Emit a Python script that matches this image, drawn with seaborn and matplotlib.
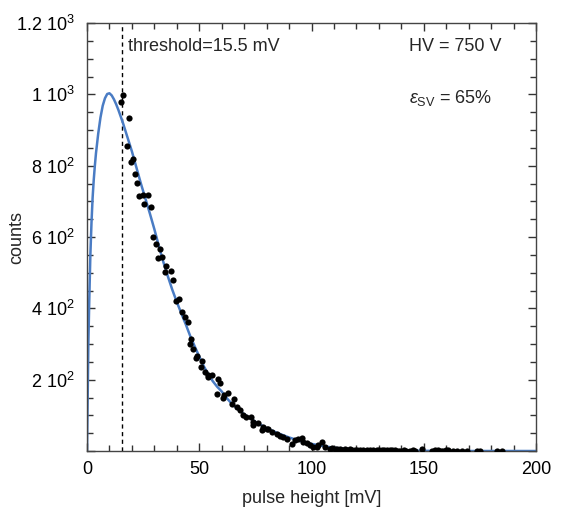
import matplotlib
matplotlib.use("Agg")
import matplotlib.pyplot as plt
import seaborn as sns
import pandas as pd
from matplotlib.ticker import MultipleLocator

# ---- data ----
curve_x = [0, 0.3, 0.6, 1, 1.5, 2, 2.5, 3, 3.5, 4, 5, 6, 7, 8, 9, 10, 11, 12, 13, 14, 15, 16,
           18, 20, 22, 24, 26, 28, 30, 32, 34, 36, 38, 40, 42, 44, 46, 48, 50, 52, 54, 56, 58,
           60, 62, 64, 66, 68, 70, 75, 80, 85, 90, 95, 100, 105, 110, 115, 120, 130, 140, 150,
           160, 170, 180, 190, 200]
curve_y = [0, 150, 300, 420, 550, 640, 710, 760, 800, 835, 890, 935, 968, 989, 1001, 1003, 997,
           986, 972, 956, 938, 920, 880, 840, 795, 750, 708, 666, 622, 575, 530, 490, 452, 418,
           386, 355, 322, 293, 265, 238, 215, 196, 180, 167, 150, 136, 124, 113, 103, 82, 64, 50,
           38, 28, 20, 14, 9, 6, 4, 2, 1, 0.5, 0, 0, 0, 0, 0]

pts_x = [15.1, 16.2, 17.7, 18.7, 19.4, 20.3, 21.4, 22.4, 23.3, 24.8, 25.6, 27.3, 28.4, 29.3,
         30.6, 31.8, 32.5, 33.5, 34.7, 35.2, 37.4, 38.4, 39.6, 41.1, 42.3, 43.7, 44.8, 45.7,
         46.3, 47.4, 48.4, 48.9, 50.6, 51.4, 52.6, 53.8, 54.0, 55.5, 57.8, 58.5, 59.2, 60.7,
         61.2, 63.0, 64.5, 65.5, 66.7, 68.2, 69.6, 70.8, 72.9, 73.8, 74.1, 76.0, 77.8, 78.5,
         80.0, 80.7, 82.3, 84.5, 86.0, 87.5, 89.0, 91.2, 92.7, 94.1, 95.6, 96.4, 97.8, 99.3,
         100.8, 102.3, 103.0, 104.5, 106.0, 108.2, 109.3, 110.4, 111.5, 112.7, 113.8, 114.9,
         116.0, 117.1, 118.2, 119.3, 120.4, 121.6, 123.0, 124.5, 126.0, 127.5, 129.0, 130.2,
         131.2, 132.4, 133.5, 135.0, 136.0, 137.2, 138.4, 139.5, 141.0, 142.0, 144.0, 145.0,
         146.2, 149.0, 153.5, 155.0, 156.4, 157.5, 158.6, 159.8, 160.9, 163.0, 164.7, 166.9,
         169.1, 173.6, 175.0, 182.5, 184.7]
pts_y = [979, 998, 855, 935, 811, 818, 777, 752, 715, 718, 692, 718, 683, 601,
         580, 542, 565, 545, 503, 519, 505, 479, 421, 425, 389, 377, 363, 299,
         313, 285, 260, 266, 236, 253, 222, 207, 213, 213, 160, 201, 191, 149,
         157, 162, 133, 145, 124, 115, 101, 96, 96, 73, 82, 79, 59, 66,
         63, 61, 54, 49, 42, 38, 33, 21, 31, 33, 36, 26, 23, 17,
         10, 12, 17, 26, 12, 7, 8, 6, 5, 6, 4, 5,
         4, 5, 3, 4, 3, 3, 4, 3, 3, 2, 3, 2,
         2, 3, 2, 3, 2, 2, 1, 1, 2, 1, 1, 2,
         1, 5, 1, 2, 2, 1, 1, 2, 2, 1, 1, 1,
         1, 1, 1, 1, 1]

threshold = 15.5
x_ticks = [0, 50, 100, 150, 200]
y_ticks = [0, 200, 400, 600, 800, 1000, 1200]
y_tick_labels = ["", "2 10$^{2}$", "4 10$^{2}$", "6 10$^{2}$", "8 10$^{2}$", "1 10$^{3}$", "1.2 10$^{3}$"]

# ---- style ----
sns.set_theme(style="ticks")
plt.rcParams["font.family"] = ["Liberation Sans", "DejaVu Sans"]
plt.rcParams["mathtext.fontset"] = "custom"
plt.rcParams["mathtext.rm"] = "Liberation Sans"
plt.rcParams["mathtext.it"] = "Liberation Sans:italic"
plt.rcParams["mathtext.default"] = "regular"

FS = 13

fig = plt.figure(figsize=(5.63, 5.14), dpi=100)
ax = fig.add_axes([87 / 563, 1 - 451 / 514, 449 / 563, 428 / 514])

curve_df = pd.DataFrame({"x": curve_x, "y": curve_y})
pts_df = pd.DataFrame({"x": pts_x, "y": pts_y})

sns.lineplot(data=curve_df, x="x", y="y", ax=ax, color="#4a7cc4", linewidth=1.8,
             estimator=None, sort=False, zorder=2)
sns.scatterplot(data=pts_df, x="x", y="y", ax=ax, color="black", s=20, edgecolor="black",
                linewidth=0, zorder=3)
ax.axvline(threshold, color="black", linestyle=(0, (3, 2.5)), linewidth=1.0, zorder=1)

ax.set_xlim(0, 200)
ax.set_ylim(0, 1200)
ax.set_xticks(x_ticks)
ax.set_yticks(y_ticks)
ax.set_yticklabels(y_tick_labels)
ax.xaxis.set_minor_locator(MultipleLocator(10))
ax.yaxis.set_minor_locator(MultipleLocator(50))
ax.tick_params(which="both", direction="in", top=True, right=True, colors="#333333",
               labelcolor="black", labelsize=FS)
ax.tick_params(which="major", length=6, width=1)
ax.tick_params(which="minor", length=4, width=1)
ax.tick_params(axis="x", pad=7)
ax.tick_params(axis="y", pad=9)
for sp in ax.spines.values():
    sp.set_visible(True)
    sp.set_color("#444444")
    sp.set_linewidth(1.0)

ax.set_xlabel("pulse height [mV]", fontsize=FS)
ax.set_ylabel("counts", fontsize=FS)
ax.xaxis.set_label_coords(0.5, -0.092)
ax.yaxis.set_label_coords(-0.138, 0.5)

ax.text(18.2, 1133, "threshold=15.5 mV", fontsize=FS, ha="left", va="center")
ax.text(143.5, 1133, "HV = 750 V", fontsize=FS, ha="left", va="center")
ax.text(143.5, 990, "$\\mathit{\\varepsilon}_{SV}$ = 65%", fontsize=FS, ha="left", va="center")

fig.savefig("out.png", dpi=100)
